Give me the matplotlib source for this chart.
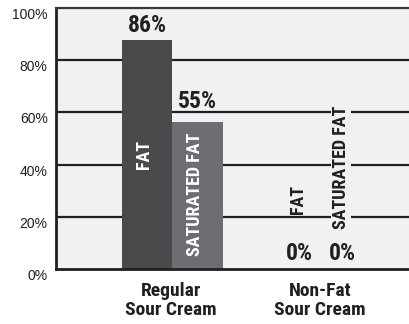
import matplotlib
matplotlib.use('Agg')
import matplotlib.pyplot as plt
import matplotlib.transforms as mtrans

# data
groups = ['Regular\nSour Cream', 'Non-Fat\nSour Cream']
series = ['FAT', 'SATURATED FAT']
bar_heights = [[87.7, 56.5], [0, 0]]
value_labels = [['86%', '55%'], ['0%', '0%']]
yticks = [0, 20, 40, 60, 80, 100]
ytick_labels = ['0%', '20%', '40%', '60%', '80%', '100%']

group_x = [2.30, 5.24]
offsets = [[-0.5, 0.5], [-0.425, 0.425]]
colors = ['#4a4a4c', '#6d6e71']
bg = '#f0f1f3'
ink = '#231f20'
narrow = ['Roboto Condensed', 'Archivo Narrow', 'IBM Plex Sans Condensed', 'DejaVu Sans']

# baselines of the value labels, and centres of the series names
label_base = [[90.8, 61.7], [3.4, 3.4]]
inner_y = [[44, 28.7], [26.6, 39]]

fig = plt.figure(figsize=(4.10, 3.24), dpi=100)
ax = fig.add_axes([56/410, (324-269)/324, 354/410, 261/324])
ax.set_facecolor(bg)
ax.set_xlim(0, 7.0)
ax.set_ylim(0, 100)

for y in yticks[1:-1]:
    ax.axhline(y, color=ink, lw=1.6, zorder=1)

for g in range(len(groups)):
    for s in range(len(series)):
        x = group_x[g] + offsets[g][s]
        h = bar_heights[g][s]
        ax.bar(x, h, width=1.0, color=colors[s], zorder=2)
        ax.text(x, label_base[g][s], value_labels[g][s], ha='center', va='baseline',
                fontsize=17, fontweight='bold', family=narrow, color=ink, zorder=4)
        if h > 0:
            ax.text(x - 0.05, inner_y[g][s], series[s], rotation=90, ha='center',
                    va='center', fontsize=13, fontweight='bold', family=narrow,
                    color='white', zorder=4)
        else:
            box = None
            if s == 1:
                box = dict(facecolor=bg, edgecolor='none', pad=1.0)
            ax.text(x - 0.03, inner_y[g][s], series[s], rotation=90, ha='center', va='center',
                    fontsize=13, fontweight='bold', family=narrow, color=ink, zorder=4,
                    bbox=box)

for g in range(len(groups)):
    ax.text(group_x[g] - 0.02, -4.8, groups[g], ha='center', va='top', fontsize=14,
            fontweight='bold', family=narrow, color=ink, linespacing=1.1)

ax.set_xticks([])
ax.set_yticks(yticks)
ax.set_yticklabels(ytick_labels, fontsize=10, color=ink, family=['Liberation Sans', 'DejaVu Sans'])
ax.tick_params(axis='y', length=0, pad=6)
off = mtrans.ScaledTranslation(0, -4/72, fig.dpi_scale_trans)
for lab in ax.get_yticklabels():
    lab.set_transform(lab.get_transform() + off)

ax.spines['right'].set_visible(False)
ax.spines['left'].set_linewidth(2.0)
ax.spines['left'].set_color(ink)
ax.spines['bottom'].set_linewidth(2.0)
ax.spines['bottom'].set_color(ink)
ax.spines['top'].set_linewidth(1.6)
ax.spines['top'].set_color('#3a3a3c')

fig.savefig('out.png', dpi=100, facecolor='white')
